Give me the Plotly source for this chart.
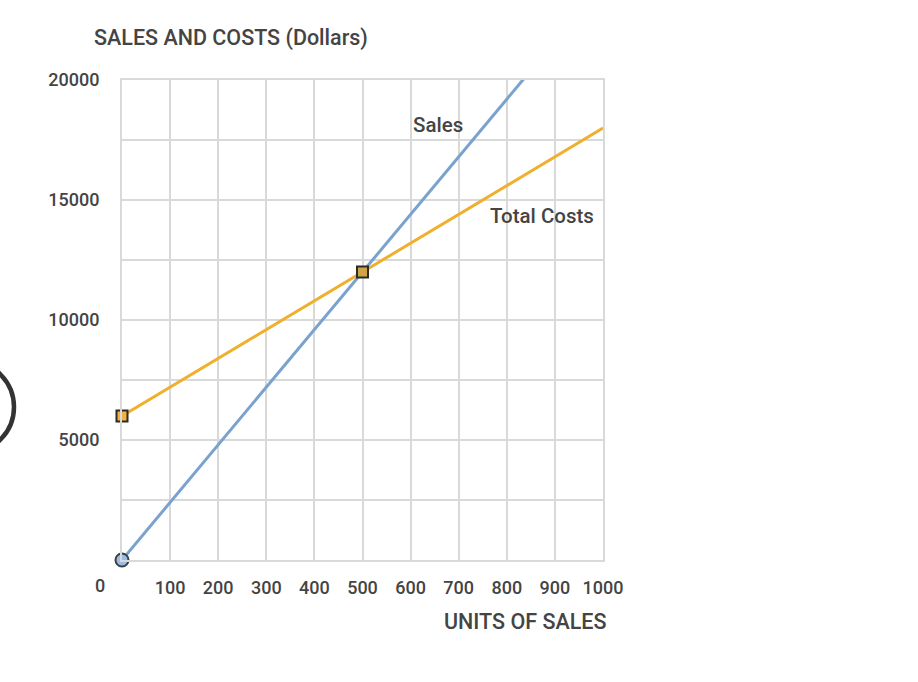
import plotly.graph_objects as go

units = [0, 500, 1000]
sales = [0, 12000, 24000]
total_costs = [6000, 12000, 18000]

x_ticks = [0, 100, 200, 300, 400, 500, 600, 700, 800, 900, 1000]
x_labels = ["", "100", "200", "300", "400", "500", "600", "700", "800", "900", "1000"]
y_ticks = [0, 2500, 5000, 7500, 10000, 12500, 15000, 17500, 20000]
y_labels = ["", "", "5000", "", "10000", "", "15000", "", "20000"]

W, H = 918, 682
L, R, T, B = 122, 603, 80, 560
pw, ph = R - L, B - T

def px(x):
    return (x - L) / pw

def py(y):
    return (B - y) / ph

font = "Roboto"
txt = "#444444"
blue = "#7aa2cf"
orange = "#efb02e"

fig = go.Figure()
fig.add_trace(go.Scatter(x=units, y=total_costs, mode="lines",
                         line=dict(color=orange, width=3), hoverinfo="skip"))
fig.add_trace(go.Scatter(x=units, y=sales, mode="lines",
                         line=dict(color=blue, width=3), hoverinfo="skip"))
fig.add_trace(go.Scatter(x=[units[0]], y=[sales[0]], mode="markers", cliponaxis=False,
                         marker=dict(symbol="circle", size=13, color="#9bbde0",
                                     line=dict(color="#3a4048", width=2))))
fig.add_trace(go.Scatter(x=[units[0]], y=[total_costs[0]], mode="markers", cliponaxis=False,
                         marker=dict(symbol="square", size=11, color="#f2b340",
                                     line=dict(color="#2a2a2a", width=2))))
fig.add_trace(go.Scatter(x=[units[1]], y=[sales[1]], mode="markers", cliponaxis=False,
                         marker=dict(symbol="square", size=11, color="#cfa444",
                                     line=dict(color="#2a2a2a", width=2))))

tickfont = dict(family=font, size=18, color=txt, weight=500)
axis_common = dict(showgrid=True, gridcolor="#d9d9d9", gridwidth=2,
                   showline=True, linecolor="#d9d9d9", linewidth=2, mirror=True,
                   zeroline=False, ticks="", tickfont=tickfont)

fig.update_layout(
    width=W, height=H, showlegend=False,
    margin=dict(l=L, r=W - R, t=T, b=H - B),
    paper_bgcolor="white", plot_bgcolor="white",
    xaxis=dict(range=[0, 1000], tickmode="array", tickvals=x_ticks, ticktext=x_labels,
               ticklabelstandoff=10, **axis_common),
    yaxis=dict(range=[0, 20000], tickmode="array", tickvals=y_ticks, ticktext=y_labels,
               ticklabelstandoff=17, **axis_common),
    annotations=[
        dict(text="SALES AND COSTS (Dollars)", x=px(92), y=py(38), xref="paper", yref="paper",
             xanchor="left", yanchor="middle", showarrow=False,
             font=dict(family=font, size=21.5, color=txt, weight=500)),
        dict(text="UNITS OF SALES", x=px(608), y=py(621), xref="paper", yref="paper",
             xanchor="right", yanchor="middle", showarrow=False,
             font=dict(family=font, size=21.5, color=txt, weight=500)),
        dict(text="0", x=px(100), y=py(585), xref="paper", yref="paper",
             xanchor="center", yanchor="middle", showarrow=False,
             font=tickfont),
        dict(text="Sales", x=px(437.5), y=py(125), xref="paper", yref="paper", showarrow=False,
             xanchor="center", yanchor="middle",
             font=dict(family=font, size=20.5, color=txt, weight=500)),
        dict(text="Total Costs", x=px(542), y=py(216), xref="paper", yref="paper", showarrow=False,
             xanchor="center", yanchor="middle",
             font=dict(family=font, size=20.5, color=txt, weight=500)),
    ],
    shapes=[
        dict(type="circle", xref="paper", yref="paper",
             x0=px(-78), x1=px(14), y0=py(361), y1=py(453),
             line=dict(color="#333333", width=4.5)),
    ],
)

fig.write_html("out.html")
